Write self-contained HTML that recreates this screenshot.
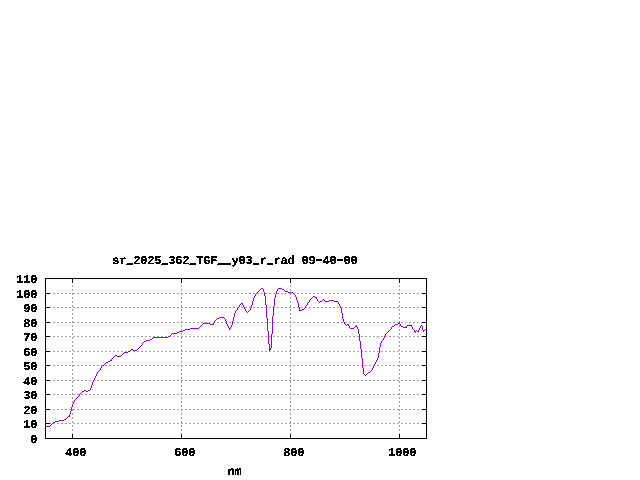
<!DOCTYPE html>
<html>
<head>
<meta charset="utf-8">
<title>sr_2025_362_TGF__y03_r_rad 09-40-00</title>
<style>
html,body{margin:0;padding:0;background:#fff;}
body{width:640px;height:480px;overflow:hidden;position:relative;font-family:"Liberation Mono",monospace;}
svg{position:absolute;left:0;top:0;display:block;}
.h{font-size:18px;letter-spacing:-3.8px;}
.t{font-family:"Liberation Mono",monospace;font-weight:bold;font-size:12px;letter-spacing:-0.2px;fill:#000;stroke:#000;stroke-width:0.4px;text-rendering:geometricPrecision;}
</style>
</head>
<body>
<svg width="640" height="480" viewBox="0 0 640 480">
<defs>
<filter id="bw" filterUnits="userSpaceOnUse" x="0" y="240" width="640" height="240" color-interpolation-filters="sRGB">
<feComponentTransfer><feFuncA type="discrete" tableValues="0 0 0 0 0 0 0 0 0 0 0 0 1 1 1 1 1 1 1 1"/></feComponentTransfer>
</filter>
</defs>
<rect x="0" y="0" width="640" height="480" fill="#ffffff"/>

<g shape-rendering="crispEdges" stroke="#a0a0a0" stroke-width="1" stroke-dasharray="2,2" fill="none">
<line x1="45" y1="423.5" x2="426" y2="423.5"/>
<line x1="45" y1="409.5" x2="426" y2="409.5"/>
<line x1="45" y1="394.5" x2="426" y2="394.5"/>
<line x1="45" y1="380.5" x2="426" y2="380.5"/>
<line x1="45" y1="365.5" x2="426" y2="365.5"/>
<line x1="45" y1="351.5" x2="426" y2="351.5"/>
<line x1="45" y1="336.5" x2="426" y2="336.5"/>
<line x1="45" y1="322.5" x2="426" y2="322.5"/>
<line x1="45" y1="307.5" x2="426" y2="307.5"/>
<line x1="45" y1="293.5" x2="426" y2="293.5"/>
<line x1="72.5" y1="439" x2="72.5" y2="278"/>
<line x1="181.5" y1="439" x2="181.5" y2="278"/>
<line x1="290.5" y1="439" x2="290.5" y2="278"/>
<line x1="399.5" y1="439" x2="399.5" y2="278"/>
</g>
<path shape-rendering="crispEdges" fill="#9400d3" stroke="none" d="M45 426h5v1h-5zM50 425h1v1h-1zM51 424h1v1h-1zM52 423h1v1h-1zM53 422h2v1h-2zM55 421h4v1h-4zM59 420h5v1h-5zM64 419h2v1h-2zM66 418h1v1h-1zM67 417h1v1h-1zM68 416h1v1h-1zM69 414h1v3h-1zM70 411h1v3h-1zM71 407h1v4h-1zM72 404h1v3h-1zM73 402h1v2h-1zM74 400h1v2h-1zM75 399h1v1h-1zM76 398h1v1h-1zM77 397h1v1h-1zM78 396h1v1h-1zM79 394h1v2h-1zM80 393h1v1h-1zM81 392h1v1h-1zM82 391h2v1h-2zM84 390h2v1h-2zM86 391h2v1h-2zM88 390h2v1h-2zM90 388h1v2h-1zM91 385h1v3h-1zM92 382h1v3h-1zM93 380h1v2h-1zM94 378h1v2h-1zM95 376h1v2h-1zM96 374h1v2h-1zM97 372h1v2h-1zM98 371h1v1h-1zM99 370h1v1h-1zM100 368h1v2h-1zM101 366h1v2h-1zM102 365h2v1h-2zM104 364h1v1h-1zM105 363h1v1h-1zM106 362h2v1h-2zM108 361h2v1h-2zM110 360h1v1h-1zM111 359h1v2h-1zM112 358h1v1h-1zM113 357h1v1h-1zM114 356h1v1h-1zM115 355h2v1h-2zM117 356h4v1h-4zM121 355h1v1h-1zM122 354h1v1h-1zM123 353h1v1h-1zM124 352h4v1h-4zM128 351h2v1h-2zM130 350h1v1h-1zM131 349h2v1h-2zM133 350h4v1h-4zM137 349h1v1h-1zM138 348h1v1h-1zM139 347h1v1h-1zM140 346h1v1h-1zM141 345h1v1h-1zM142 343h1v2h-1zM143 342h1v1h-1zM144 341h2v1h-2zM146 340h4v1h-4zM150 339h2v1h-2zM152 338h1v1h-1zM153 337h15v1h-15zM168 336h2v1h-2zM170 335h1v1h-1zM171 334h1v1h-1zM172 333h5v1h-5zM177 332h2v1h-2zM179 331h4v1h-4zM183 330h2v1h-2zM185 329h5v1h-5zM190 328h9v1h-9zM199 327h1v1h-1zM200 326h1v1h-1zM201 325h1v1h-1zM202 324h1v1h-1zM203 323h7v1h-7zM210 324h3v1h-3zM213 323h1v2h-1zM214 321h1v2h-1zM215 320h1v1h-1zM216 319h1v1h-1zM217 318h2v1h-2zM219 317h5v1h-5zM224 318h1v1h-1zM225 319h1v2h-1zM226 321h1v3h-1zM227 324h1v2h-1zM228 326h1v2h-1zM229 328h1v2h-1zM230 327h1v2h-1zM231 325h1v2h-1zM232 321h1v4h-1zM233 317h1v4h-1zM234 313h1v4h-1zM235 311h1v2h-1zM236 310h1v1h-1zM237 308h1v2h-1zM238 307h1v1h-1zM239 305h1v2h-1zM240 304h1v1h-1zM241 303h1v1h-1zM242 303h1v2h-1zM243 305h1v2h-1zM244 307h1v2h-1zM245 309h1v2h-1zM246 311h1v1h-1zM247 312h1v1h-1zM248 311h1v1h-1zM249 310h1v1h-1zM250 308h1v2h-1zM251 305h1v3h-1zM252 301h1v4h-1zM253 298h1v3h-1zM254 296h1v2h-1zM255 294h1v2h-1zM256 293h1v1h-1zM257 292h1v1h-1zM258 291h1v1h-1zM259 290h1v1h-1zM260 289h1v1h-1zM261 288h2v1h-2zM263 289h1v3h-1zM264 292h1v4h-1zM265 296h1v9h-1zM266 305h1v13h-1zM267 318h1v13h-1zM268 331h1v13h-1zM269 344h1v7h-1zM270 348h1v2h-1zM271 334h1v14h-1zM272 316h1v18h-1zM273 306h1v10h-1zM274 298h1v8h-1zM275 294h1v4h-1zM276 291h1v3h-1zM277 289h1v2h-1zM278 288h4v1h-4zM282 289h2v1h-2zM284 290h1v1h-1zM285 291h3v1h-3zM288 292h5v1h-5zM293 293h1v1h-1zM294 294h1v1h-1zM295 295h1v2h-1zM296 297h1v3h-1zM297 300h1v3h-1zM298 303h1v4h-1zM299 307h1v4h-1zM300 310h2v1h-2zM302 309h2v1h-2zM304 308h1v1h-1zM305 306h1v2h-1zM306 305h1v1h-1zM307 303h1v2h-1zM308 302h1v1h-1zM309 300h1v2h-1zM310 299h1v1h-1zM311 298h1v1h-1zM312 297h1v1h-1zM313 296h2v1h-2zM315 297h1v1h-1zM316 297h1v2h-1zM317 299h1v2h-1zM318 301h1v1h-1zM319 302h1v1h-1zM320 301h2v1h-2zM322 300h1v1h-1zM323 299h1v1h-1zM324 300h1v1h-1zM325 301h4v1h-4zM329 300h5v1h-5zM334 301h4v1h-4zM338 302h1v2h-1zM339 304h1v2h-1zM340 306h1v2h-1zM341 308h1v5h-1zM342 313h1v6h-1zM343 319h1v3h-1zM344 322h1v2h-1zM345 324h1v1h-1zM346 325h1v1h-1zM347 324h1v1h-1zM348 324h1v2h-1zM349 326h1v2h-1zM350 328h4v1h-4zM354 327h1v1h-1zM355 326h1v1h-1zM356 325h1v2h-1zM357 327h1v2h-1zM358 329h1v5h-1zM359 334h1v7h-1zM360 341h1v8h-1zM361 349h1v9h-1zM362 358h1v10h-1zM363 368h1v6h-1zM364 374h1v1h-1zM365 375h1v1h-1zM366 374h1v1h-1zM367 373h1v1h-1zM368 372h2v1h-2zM370 371h1v1h-1zM371 370h1v1h-1zM372 368h1v2h-1zM373 366h1v2h-1zM374 364h1v2h-1zM375 362h1v2h-1zM376 360h1v2h-1zM377 358h1v2h-1zM378 353h1v5h-1zM379 347h1v6h-1zM380 343h1v4h-1zM381 341h1v2h-1zM382 340h1v1h-1zM383 338h1v2h-1zM384 336h1v2h-1zM385 334h1v2h-1zM386 333h1v1h-1zM387 332h1v1h-1zM388 331h1v1h-1zM389 330h1v1h-1zM390 329h1v1h-1zM391 327h1v2h-1zM392 326h2v1h-2zM394 325h1v1h-1zM395 324h3v1h-3zM398 323h1v1h-1zM399 322h1v2h-1zM400 324h1v2h-1zM401 326h2v1h-2zM403 327h3v1h-3zM406 326h1v2h-1zM407 325h4v1h-4zM411 325h1v2h-1zM412 327h1v2h-1zM413 329h1v1h-1zM414 330h1v2h-1zM415 331h1v2h-1zM416 330h1v1h-1zM417 331h1v1h-1zM418 330h1v2h-1zM419 328h1v2h-1zM420 326h1v2h-1zM421 325h1v1h-1zM422 326h1v4h-1zM423 330h1v2h-1zM424 330h1v1h-1zM425 329h1v1h-1z"/>
<g shape-rendering="crispEdges" stroke="#000" stroke-width="1" fill="none">
<rect x="45.5" y="278.5" width="381" height="160"/>
<line x1="46" y1="423.5" x2="50" y2="423.5"/>
<line x1="422" y1="423.5" x2="426" y2="423.5"/>
<line x1="46" y1="409.5" x2="50" y2="409.5"/>
<line x1="422" y1="409.5" x2="426" y2="409.5"/>
<line x1="46" y1="394.5" x2="50" y2="394.5"/>
<line x1="422" y1="394.5" x2="426" y2="394.5"/>
<line x1="46" y1="380.5" x2="50" y2="380.5"/>
<line x1="422" y1="380.5" x2="426" y2="380.5"/>
<line x1="46" y1="365.5" x2="50" y2="365.5"/>
<line x1="422" y1="365.5" x2="426" y2="365.5"/>
<line x1="46" y1="351.5" x2="50" y2="351.5"/>
<line x1="422" y1="351.5" x2="426" y2="351.5"/>
<line x1="46" y1="336.5" x2="50" y2="336.5"/>
<line x1="422" y1="336.5" x2="426" y2="336.5"/>
<line x1="46" y1="322.5" x2="50" y2="322.5"/>
<line x1="422" y1="322.5" x2="426" y2="322.5"/>
<line x1="46" y1="307.5" x2="50" y2="307.5"/>
<line x1="422" y1="307.5" x2="426" y2="307.5"/>
<line x1="46" y1="293.5" x2="50" y2="293.5"/>
<line x1="422" y1="293.5" x2="426" y2="293.5"/>
<line x1="72.5" y1="434" x2="72.5" y2="438"/>
<line x1="72.5" y1="279" x2="72.5" y2="283"/>
<line x1="181.5" y1="434" x2="181.5" y2="438"/>
<line x1="181.5" y1="279" x2="181.5" y2="283"/>
<line x1="290.5" y1="434" x2="290.5" y2="438"/>
<line x1="290.5" y1="279" x2="290.5" y2="283"/>
<line x1="399.5" y1="434" x2="399.5" y2="438"/>
<line x1="399.5" y1="279" x2="399.5" y2="283"/>
</g>
<g class="t" filter="url(#bw)">
<text x="112.25" y="264">sr<tspan dy="-1">_</tspan><tspan dy="1">2025</tspan><tspan dy="-1">_</tspan><tspan dy="1">362</tspan><tspan dy="-1">_</tspan><tspan dy="1">TGF</tspan><tspan dy="-1">__</tspan><tspan dy="1">y03</tspan><tspan dy="-1">_</tspan><tspan dy="1">r</tspan><tspan dy="-1">_</tspan><tspan dy="1">rad 09</tspan><tspan class="h" dy="0.8" dx="-2">-</tspan><tspan dy="-0.8" dx="2">40</tspan><tspan class="h" dy="0.8" dx="-2">-</tspan><tspan dy="-0.8" dx="2">00</tspan></text>
<text x="30.25" y="443">0</text>
<text x="23.25" y="428">10</text>
<text x="23.25" y="414">20</text>
<text x="23.25" y="399">30</text>
<text x="23.25" y="385">40</text>
<text x="23.25" y="370">50</text>
<text x="23.25" y="356">60</text>
<text x="23.25" y="341">70</text>
<text x="23.25" y="327">80</text>
<text x="23.25" y="312">90</text>
<text x="16.25" y="298">100</text>
<text x="16.25" y="283">110</text>
<text x="65.25" y="456">400</text>
<text x="174.25" y="456">600</text>
<text x="283.25" y="456">800</text>
<text x="388.25" y="456">1000</text>
<text x="227.5" y="475">nm</text>
</g>
</svg>
</body>
</html>
